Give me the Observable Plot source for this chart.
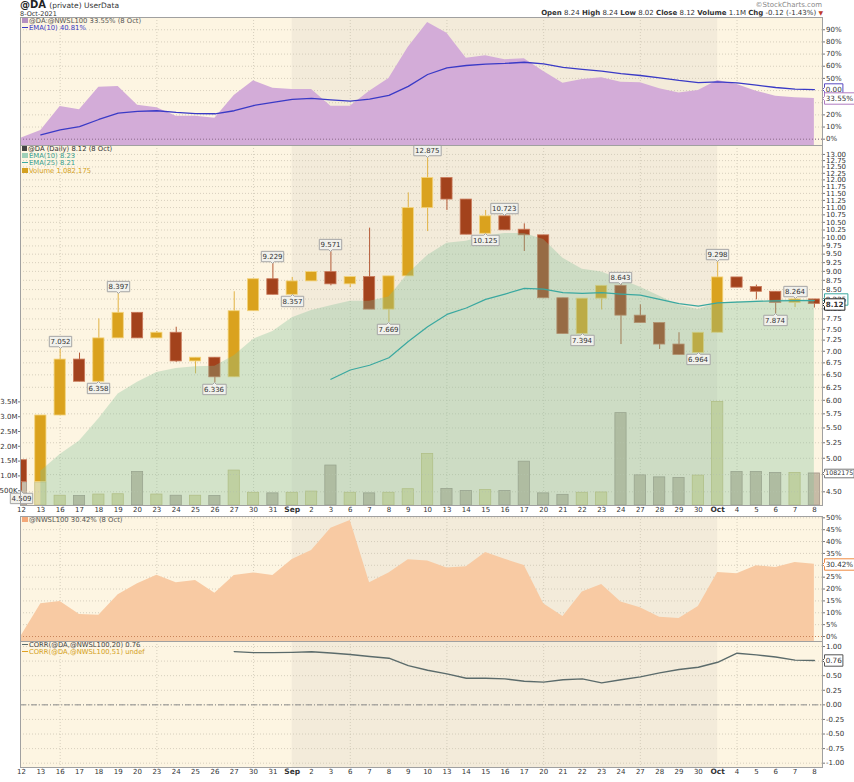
<!DOCTYPE html>
<html><head><meta charset="utf-8">
<script src="https://cdn.jsdelivr.net/npm/d3@7"></script>
<script src="https://cdn.jsdelivr.net/npm/@observablehq/plot@0.6"></script>
<style>
body{margin:0;background:#fff;}
#wrap{position:relative;width:854px;height:782px;overflow:hidden;font-family:"DejaVu Sans",Verdana,sans-serif;color:#222;background:#fff;}
.leg{position:absolute;font-size:6.8px;line-height:7.2px;white-space:nowrap;}
.ic{display:inline-block;width:6px;height:5px;margin-right:1px;vertical-align:0px;}
.ln{display:inline-block;width:6px;height:1.5px;margin-right:1px;vertical-align:2px;}
.hdr{position:absolute;white-space:nowrap;}
</style></head><body><div id="wrap"></div><script>
// ---------- data ----------
const dates = ["2021-08-12","2021-08-13","2021-08-16","2021-08-17","2021-08-18","2021-08-19","2021-08-20","2021-08-23","2021-08-24","2021-08-25","2021-08-26","2021-08-27","2021-08-30","2021-08-31","2021-09-01","2021-09-02","2021-09-03","2021-09-06","2021-09-07","2021-09-08","2021-09-09","2021-09-10","2021-09-13","2021-09-14","2021-09-15","2021-09-16","2021-09-17","2021-09-20","2021-09-21","2021-09-22","2021-09-23","2021-09-24","2021-09-27","2021-09-28","2021-09-29","2021-09-30","2021-10-01","2021-10-04","2021-10-05","2021-10-06","2021-10-07","2021-10-08"];
const tickLabels = ["12","13","16","17","18","19","20","23","24","25","26","27","30","31","Sep","2","3","6","7","8","9","10","13","14","15","16","17","20","21","22","23","24","27","28","29","30","Oct","4","5","6","7","8"];
const opens  = [4.97,4.64,5.72,6.82,6.36,7.29,7.90,7.29,7.42,6.78,6.86,6.45,7.94,8.78,8.36,8.72,8.98,8.64,8.84,7.98,8.86,10.98,12.07,11.28,10.13,10.70,10.26,10.08,8.27,7.394,8.26,8.60,7.83,7.65,7.15,6.964,7.42,8.83,8.57,8.44,8.15,8.24];
const highs  = [4.97,5.72,7.052,6.96,7.75,8.397,7.90,7.45,7.55,6.86,6.86,8.44,8.78,9.229,8.83,8.98,9.571,8.84,10.31,8.86,11.52,12.875,12.07,11.28,10.90,10.723,10.45,10.08,8.27,8.26,8.60,8.643,8.10,7.65,7.42,7.42,9.298,8.83,8.62,8.44,8.264,8.24];
const lows   = [4.509,4.64,5.72,6.36,6.358,7.29,7.29,7.29,6.76,6.52,6.336,6.45,7.94,8.36,8.357,8.72,8.60,8.55,7.98,7.669,8.86,10.20,10.90,10.10,10.125,10.24,9.58,8.27,7.39,7.394,7.97,7.15,7.65,7.04,6.92,6.964,7.42,8.55,8.23,7.874,8.03,8.02];
const closes = [4.64,5.72,6.82,6.36,7.29,7.90,7.29,7.42,6.78,6.86,6.45,7.94,8.78,8.36,8.72,8.98,8.64,8.84,7.98,8.86,10.98,12.07,11.28,10.10,10.70,10.24,10.08,8.27,7.39,8.26,8.60,7.83,7.65,7.15,6.92,7.42,8.83,8.55,8.44,8.15,8.24,8.12];
const volumesM = [0.78,0.78,0.33,0.32,0.37,0.38,1.13,0.37,0.33,0.33,0.32,1.18,0.43,0.41,0.43,0.47,1.35,0.43,0.41,0.43,0.55,1.74,0.56,0.49,0.52,0.49,1.48,0.41,0.36,0.43,0.44,3.12,1.02,0.95,0.93,1.01,3.5,1.13,1.13,1.10,1.10,1.082175];
const ema10 = [null,4.8,5.06,5.28,5.66,6.12,6.35,6.55,6.63,6.67,6.68,6.9,7.27,7.45,7.78,7.96,8.08,8.19,8.19,8.30,8.93,9.46,9.83,9.89,10.06,10.14,10.14,9.95,9.38,9.06,8.98,8.77,8.56,8.32,8.09,7.98,8.15,8.18,8.2,8.22,8.23,8.23];
const ema25 = [null,null,null,null,null,null,null,null,null,null,null,null,null,null,null,null,6.41,6.6,6.70,6.86,7.22,7.56,7.86,8.02,8.24,8.38,8.53,8.51,8.42,8.40,8.42,8.38,8.35,8.24,8.13,8.07,8.15,8.17,8.19,8.20,8.21,8.21];
const ratioPct = [1,7.2,26.9,24.2,42.8,43.4,28,25.8,18.9,18.9,17.3,36,48,42,40.9,40.9,27.1,27.1,39.5,49.9,75.7,96,87.2,66.6,68.6,65.3,66.1,55.7,46,49,50.5,46.9,46.4,41.5,37.9,40,48.3,45,39.5,35.4,34,33.55];
const ratioEma = [null,3.6,7.7,10.4,16.2,21.4,22.8,23.4,22,21.1,20.9,23.4,27.7,30.2,32.7,33.5,32.4,31.3,32.9,36,43.4,53.2,58.7,60.6,61.8,62.3,63.3,62,59,57.4,56,54,52.4,50.5,48.3,46.6,47.2,46.4,44.5,42.5,41.2,40.81];
const nwslPct = [0.4,13.8,14.7,9.3,9,17.6,22.2,25.8,22.6,23.6,18.2,25.7,26.8,25.7,32.4,36.2,45.6,48.9,22.6,26.7,32.3,31.8,28.9,29.4,35.4,32.5,29.9,13.8,8.4,18.7,21.9,14.5,12.1,8.1,7.6,12.6,27,26.4,29.8,29.1,31.2,30.42];
const corr20 = [null,null,null,null,null,null,null,null,null,null,null,0.913,0.895,0.895,0.90,0.91,0.89,0.862,0.828,0.80,0.673,0.593,0.53,0.456,0.456,0.445,0.405,0.39,0.43,0.445,0.377,0.43,0.48,0.548,0.605,0.645,0.73,0.885,0.857,0.82,0.766,0.76];
const shadedMonths = ["2021-09"];
const ratioTicks = [0,10,20,30,40,50,60,70,80,90];
const volTicks = [0.5,1,1.5,2,2.5,3,3.5];
const nwslTicks = [0,5,10,15,20,25,30,35,40,45,50];
const corrTicks = [-1,-0.75,-0.5,-0.25,0,0.25,0.5,0.75,1];
const priceTicks = d3.range(4.5, 13.001, 0.25);
const headerChange = "-0.12 (-1.43%)";
const headerVolume = "1.1M";

// ---------- derived table ----------
const rows = dates.map((d, i) => ({
  i, date: d, label: tickLabels[i], isMonth: isNaN(+tickLabels[i]),
  open: opens[i], high: highs[i], low: lows[i], close: closes[i], vol: volumesM[i],
  ema10: ema10[i], ema25: ema25[i], ratio: ratioPct[i], ratioEma: ratioEma[i],
  nwsl: nwslPct[i], corr: corr20[i],
  monday: new Date(d + "T00:00:00Z").getUTCDay() === 1
}));
const last = rows[rows.length - 1];
const isUp = d => d.close >= d.open;
const shades = shadedMonths.map(m => {
  const s = rows.findIndex(r => r.date.startsWith(m));
  const e = rows.findIndex((r, k) => k > s && !r.date.startsWith(m));
  return {start: s, end: e};
});
const mondays = rows.filter(r => r.monday).map(r => r.i);
const highLabelIdx = [2,5,13,16,21,25,31,36,40];
const lowLabelIdx = [0,4,10,14,19,24,29,35,39];

// ---------- layout helpers ----------
const wrap = document.getElementById("wrap");
const FONT = '"DejaVu Sans", Verdana, sans-serif';
const cream = "#fdf5e2", shadeCol = "#f3ebda", gridCol = "#cdc5b4";
const xDomain = [-0.052, 41.42];

function addPlot(top, height, mb, yOpt, marks) {
  const svg = Plot.plot({
    width: 854, height, marginLeft: 20, marginRight: 32, marginTop: 0, marginBottom: mb,
    x: {type: "linear", domain: xDomain, axis: null},
    y: yOpt,
    style: {background: "transparent", overflow: "visible", fontFamily: FONT, fontSize: "7px", color: "#333"},
    marks
  });
  Object.assign(svg.style, {position: "absolute", left: "0px", top: top + "px"});
  wrap.appendChild(svg);
  return svg;
}
const bg = () => [
  Plot.frame({fill: cream}),
  Plot.rect(shades, {x1: "start", x2: "end", fill: shadeCol}),
  Plot.ruleX(mondays, {stroke: gridCol, strokeDasharray: "1,2", strokeWidth: 0.8})
];
const hgrid = (ticks) => Plot.ruleY(ticks, {stroke: gridCol, strokeDasharray: "1,2", strokeWidth: 0.8});
// tick labels that sit under a value tag (hidden in the reference) are left out
const rightAxis = (ticks, fmt, hidden = []) => Plot.axisY(ticks.filter(t => !hidden.some(h => Math.abs(h - t) < 1e-9)),
  {anchor: "right", tickSize: 2, tickPadding: 1.5, fontSize: 7, tickFormat: fmt, label: null, stroke: "#777"});
const tagOpts = {frameAnchor: "right", anchor: "left", fontSize: 7.2, textPadding: 1.2, pointerSize: 4, pathFilter: "none", fontFamily: FONT};
const lblOpts = {fill: "#f1f1ec", stroke: "#a5a5a5", fontSize: 7, textPadding: 1.2, pointerSize: 3.5, pathFilter: "none", fontFamily: FONT};
const xLabels = () => [
  Plot.text(rows.filter(d => !d.isMonth), {x: "i", text: "label", frameAnchor: "bottom", dy: 6, fontSize: 7, fill: "#333"}),
  Plot.text(rows.filter(d => d.isMonth), {x: "i", text: "label", frameAnchor: "bottom", dy: 6, fontSize: 7.5, fontWeight: "bold", fill: "#333"})
];

// ---------- header ----------
function html(cls, style, inner) {
  const d = document.createElement("div");
  d.className = cls; d.setAttribute("style", style); d.innerHTML = inner; wrap.appendChild(d); return d;
}
html("hdr", "left:20px;top:0px;font-size:10px;line-height:10px;", `<b>@DA</b> <span style="font-size:7.5px;color:#333">(private) UserData</span>`);
html("hdr", "left:20px;top:11px;font-size:6.5px;line-height:6.5px;color:#333", "8-Oct-2021");
html("hdr", "right:32px;top:1px;font-size:7px;line-height:8px;color:#888", "©StockCharts.com");
html("hdr", "right:31px;top:9px;font-size:7px;line-height:8px;color:#333",
  `<b>Open</b> ${last.open.toFixed(2)} <b>High</b> ${last.high.toFixed(2)} <b>Low</b> ${last.low.toFixed(2)} <b>Close</b> ${last.close.toFixed(2)} <b>Volume</b> ${headerVolume} <b>Chg</b> ${headerChange} <span style="color:#c0392b;font-size:6px">▼</span>`);

// ---------- panel 1: ratio ----------
const ratioDomain = [-5.2, 100.1];
addPlot(17, 128, 0, {domain: ratioDomain}, [
  ...bg(),
  hgrid(ratioTicks),
  Plot.areaY(rows, {x: "i", y1: ratioDomain[0], y2: "ratio", fill: "#d3acd8"}),
  Plot.ruleY([0], {stroke: "#8a6a8a", strokeDasharray: "1,2"}),
  Plot.lineY(rows.filter(d => d.ratioEma != null), {x: "i", y: "ratioEma", stroke: "#3a3ac6", strokeWidth: 1.3}),
  rightAxis(ratioTicks, d => d + "%", [30, 40]),
  Plot.tip([last], {y: "ratioEma", title: () => "0.00", fill: "#fff", stroke: "#5a4ac0", ...tagOpts}),
  Plot.tip([last], {y: "ratio", title: d => d.ratio.toFixed(2) + "%", fill: "#fff", stroke: "#b07ac0", ...tagOpts}),
  Plot.frame({stroke: "#a0a0a0"})
]);
html("leg", "left:22px;top:18px;",
  `<div style="color:#555"><span class="ic" style="background:#b590c0"></span>@DA:@NWSL100 ${last.ratio.toFixed(2)}% (8 Oct)</div>
   <div style="color:#3a3ac6"><span class="ln" style="background:#3a3ac6"></span>EMA(10) ${last.ratioEma.toFixed(2)}%</div>`);

// ---------- panel 2: price + volume ----------
const volDomain = [0, 12.16];
addPlot(145, 360, 0, {domain: volDomain}, [
  ...bg(),
  Plot.rectY(rows, {x1: d => d.i - 0.29, x2: d => d.i + 0.29, y: "vol",
    fill: d => isUp(d) ? "#dfd9a6" : "#c7bba6", stroke: d => isUp(d) ? "#c8bf7e" : "#a5978a", strokeWidth: 0.8, clip: true}),
  Plot.axisY(volTicks, {anchor: "left", tickSize: 2, tickPadding: 1, fontSize: 7, label: null,
    tickFormat: d => d < 1 ? (d * 1000) + "K" : d.toFixed(1) + "M", stroke: "#777"})
]);
const priceDomain = [4.31, 13.37];
addPlot(145, 371, 11, {type: "log", domain: priceDomain}, [
  hgrid(priceTicks),
  Plot.ruleX(rows, {x: "i", y1: "low", y2: "high", stroke: d => isUp(d) ? "#e2b345" : "#b45a36", strokeWidth: 1, clip: true}),
  Plot.rect(rows, {x1: d => d.i - 0.29, x2: d => d.i + 0.29, y1: "open", y2: "close",
    fill: d => isUp(d) ? "#daa21e" : "#a3421c", stroke: d => isUp(d) ? "#f3d47e" : "#c9795a", strokeWidth: 0.8, clip: true}),
  Plot.areaY(rows.filter(d => d.ema10 != null), {x: "i", y1: priceDomain[0], y2: "ema10", fill: "#7fbf98", fillOpacity: 0.33}),
  Plot.lineY(rows.filter(d => d.ema25 != null), {x: "i", y: "ema25", stroke: "#3aa8a0", strokeWidth: 1.2}),
  Plot.tip(rows.filter(d => highLabelIdx.includes(d.i)), {x: "i", y: "high", anchor: "bottom", title: d => d.high.toFixed(3), ...lblOpts}),
  Plot.tip(rows.filter(d => lowLabelIdx.includes(d.i)), {x: "i", y: "low", anchor: "top", title: d => d.low.toFixed(3), ...lblOpts}),
  rightAxis(priceTicks, d => d.toFixed(2), [4.75, 8.25]),
  Plot.tip([last], {y: "ema10", title: d => "8.225", fill: "#fff", stroke: "#3aa8a0", ...tagOpts}),
  Plot.tip([last], {y: "close", title: d => d.close.toFixed(2), fill: "#fff", stroke: "#222", fontWeight: "bold", ...tagOpts}),
  Plot.frame({stroke: "#a0a0a0"}),
  ...xLabels()
]);
addPlot(145, 360, 0, {domain: volDomain, axis: null}, [
  Plot.tip([last], {y: "vol", title: d => String(Math.round(d.vol * 1e6)), fill: "#fff", stroke: "#777", ...tagOpts, fontSize: 6.3, textPadding: 0.8})
]);
html("leg", "left:22px;top:146px;",
  `<div style="color:#333"><span class="ic" style="background:#444;width:5px"></span>@DA (Daily) ${last.close.toFixed(2)} (8 Oct)</div>
   <div style="color:#3aa090"><span class="ic" style="background:#9fd0b8"></span>EMA(10) ${last.ema10.toFixed(2)}</div>
   <div style="color:#3aa090"><span class="ln" style="background:#3aa8a0"></span>EMA(25) ${last.ema25.toFixed(2)}</div>
   <div style="color:#d4a020"><span class="ic" style="background:#d4a020"></span>Volume ${d3.format(",")(Math.round(last.vol * 1e6))}</div>`);

// ---------- panel 3: NWSL100 ----------
const nwslDomain = [-2.1, 50.55];
addPlot(516, 125, 0, {domain: nwslDomain}, [
  ...bg(),
  hgrid(nwslTicks),
  Plot.areaY(rows, {x: "i", y1: nwslDomain[0], y2: "nwsl", fill: "#f8caa3"}),
  Plot.ruleY([0], {stroke: "#c8845a", strokeDasharray: "1,2"}),
  rightAxis(nwslTicks, d => d + "%", [30]),
  Plot.tip([last], {y: "nwsl", title: d => d.nwsl.toFixed(2) + "%", fill: "#fff", stroke: "#f08a40", ...tagOpts}),
  Plot.frame({stroke: "#a0a0a0"})
]);
html("leg", "left:22px;top:517px;",
  `<div style="color:#555"><span class="ic" style="background:#f4a878"></span>@NWSL100 ${last.nwsl.toFixed(2)}% (8 Oct)</div>`);

// ---------- panel 4: correlation ----------
const corrDomain = [-1.074, 1.086];
addPlot(641, 141, 15, {domain: corrDomain}, [
  ...bg(),
  hgrid(corrTicks),
  Plot.ruleY([0], {stroke: "#8a8a8a", strokeDasharray: "6,2,1,2"}),
  Plot.lineY(rows.filter(d => d.corr != null), {x: "i", y: "corr", stroke: "#5b6b6b", strokeWidth: 1.4}),
  rightAxis(corrTicks, d => d.toFixed(2), [0.75]),
  Plot.tip([last], {y: "corr", title: d => d.corr.toFixed(2), fill: "#fff", stroke: "#555", ...tagOpts}),
  Plot.frame({stroke: "#a0a0a0"}),
  ...xLabels()
]);
html("leg", "left:22px;top:642px;",
  `<div style="color:#444"><span class="ln" style="background:#5b6b6b"></span>CORR(@DA,@NWSL100,20) ${last.corr.toFixed(2)}</div>
   <div style="color:#d4a020"><span class="ln" style="background:#e0a020"></span>CORR(@DA,@NWSL100,51) undef</div>`);
</script></body></html>
